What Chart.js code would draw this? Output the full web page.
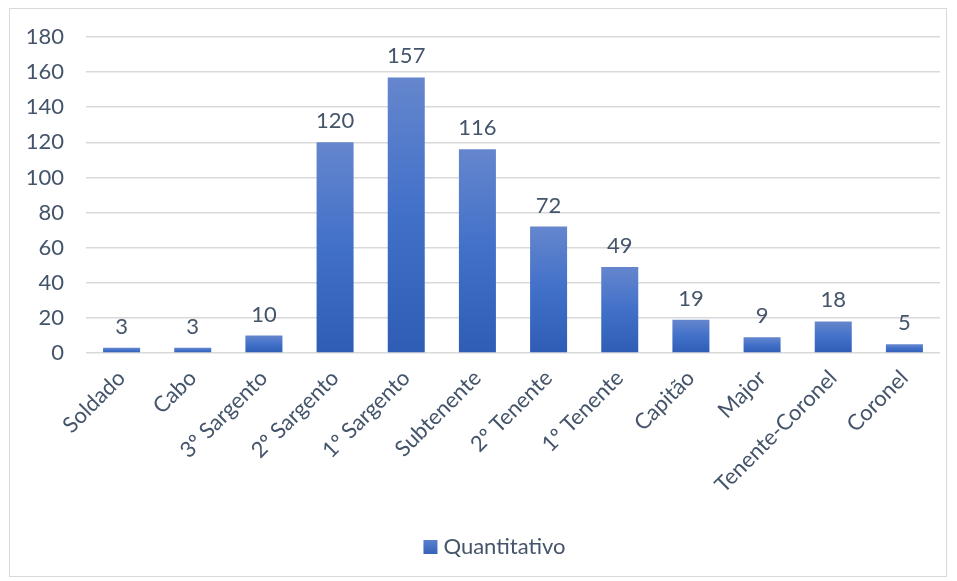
<!DOCTYPE html>
<html>
<head>
<meta charset="utf-8">
<script src="https://cdn.jsdelivr.net/npm/chart.js@4/dist/chart.umd.min.js"></script>
<style>
  html, body { margin: 0; padding: 0; background: #fff; }
  #wrap { position: relative; width: 957px; height: 581px; }
  #frame { position: absolute; left: 9px; top: 8px; width: 938px; height: 569px; border: 1px solid #d9d9d9; box-sizing: border-box; }
  canvas { position: absolute; left: 0; top: 0; }
</style>
</head>
<body>
<div id="wrap">
  <div id="frame"></div>
  <canvas id="chart" width="957" height="581"></canvas>
</div>
<script>
// Data
const categories = ['Soldado', 'Cabo', '3º Sargento', '2º Sargento', '1º Sargento', 'Subtenente',
    '2º Tenente', '1º Tenente', 'Capitão', 'Major', 'Tenente-Coronel', 'Coronel'];
const quantitativo = [3, 3, 10, 120, 157, 116, 72, 49, 19, 9, 18, 5];
const yTicks = [0, 20, 40, 60, 80, 100, 120, 140, 160, 180];
const seriesName = 'Quantitativo';

const textColor = '#44546a';
const fontFamily = 'Lato, "Open Sans", sans-serif';
const fontSize = 22;

// Each bar gets its own light-to-dark gradient
function barGradient(context) {
    const chart = context.chart;
    const { ctx, chartArea, scales } = chart;
    if (!chartArea || context.dataIndex === undefined) return '#4472c4';
    const value = quantitativo[context.dataIndex];
    const top = scales.y.getPixelForValue(value);
    const bottom = scales.y.getPixelForValue(0);
    const g = ctx.createLinearGradient(0, top, 0, bottom);
    g.addColorStop(0, '#6586cd');
    g.addColorStop(0.5, '#4170c9');
    g.addColorStop(1, '#2f5db5');
    return g;
}

// Value labels above bars
const valueLabels = {
    id: 'valueLabels',
    afterDatasetsDraw(chart) {
        const ctx = chart.ctx;
        const meta = chart.getDatasetMeta(0);
        ctx.save();
        ctx.fillStyle = textColor;
        ctx.font = fontSize + 'px ' + fontFamily;
        ctx.textAlign = 'center';
        ctx.textBaseline = 'bottom';
        meta.data.forEach((bar, i) => {
            ctx.fillText(String(quantitativo[i]), bar.x, bar.y - 10);
        });
        ctx.restore();
    }
};

// Simple bottom legend (square + name, tight gap like the original)
const bottomLegend = {
    id: 'bottomLegend',
    afterDraw(chart) {
        const ctx = chart.ctx;
        ctx.save();
        ctx.font = fontSize + 'px ' + fontFamily;
        const tw = ctx.measureText(seriesName).width;
        const box = 14, gap = 6;
        const total = box + gap + tw;
        const cx = chart.width / 2 + 16;
        const cy = chart.height - 34;
        const x0 = cx - total / 2;
        const g = ctx.createLinearGradient(0, cy - box / 2, 0, cy + box / 2);
        g.addColorStop(0, '#5a80cc');
        g.addColorStop(1, '#3563b9');
        ctx.fillStyle = g;
        ctx.fillRect(x0, cy - box / 2, box, box);
        ctx.fillStyle = textColor;
        ctx.textBaseline = 'middle';
        ctx.textAlign = 'left';
        ctx.fillText(seriesName, x0 + box + gap, cy);
        ctx.restore();
    }
};

new Chart(document.getElementById('chart'), {
    type: 'bar',
    data: {
        labels: categories,
        datasets: [{
            label: seriesName,
            data: quantitativo,
            backgroundColor: barGradient,
            categoryPercentage: 1,
            barPercentage: 0.52
        }]
    },
    options: {
        responsive: false,
        animation: false,
        layout: { padding: { top: 37, right: 17, bottom: 54, left: 0 } },
        plugins: {
            legend: { display: false },
            tooltip: { enabled: false }
        },
        scales: {
            y: {
                min: 0,
                max: 180,
                afterFit(scale) { scale.width = 86; },
                afterBuildTicks(scale) { scale.ticks = yTicks.map(v => ({ value: v })); },
                border: { display: false },
                grid: { color: '#d9d9d9', lineWidth: 1.5, drawTicks: false },
                ticks: {
                    color: textColor,
                    font: { size: fontSize, family: fontFamily },
                    padding: 22
                }
            },
            x: {
                afterFit(scale) { scale.height = 174; },
                border: { display: false },
                grid: { display: false },
                ticks: {
                    color: textColor,
                    font: { size: fontSize, family: fontFamily },
                    minRotation: 45,
                    maxRotation: 45,
                    padding: 4
                }
            }
        }
    },
    plugins: [valueLabels, bottomLegend]
});
</script>
</body>
</html>
